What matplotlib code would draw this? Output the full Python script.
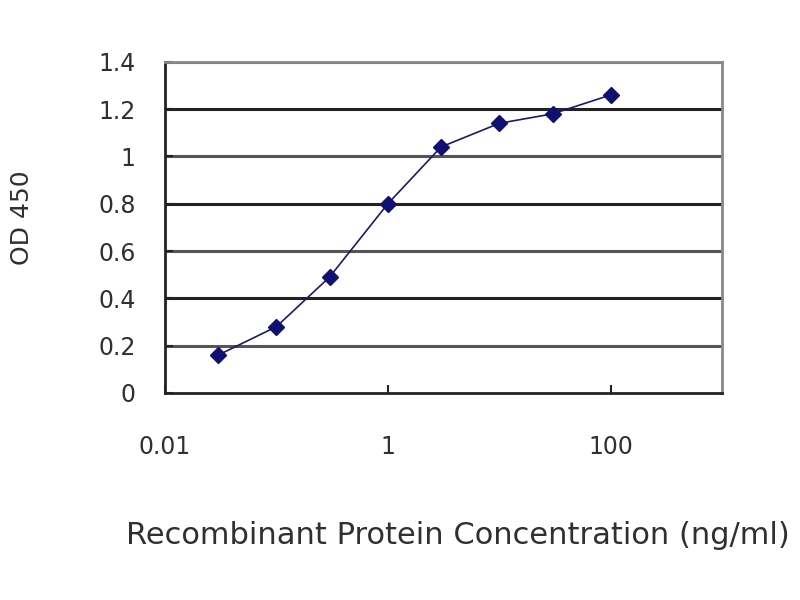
import numpy as np
import matplotlib
matplotlib.use("Agg")
import matplotlib.pyplot as plt

plt.rcParams['font.family'] = ['DejaVu Sans']

# concentration (ng/ml) and OD 450 readings
conc = [0.03, 0.1, 0.3, 1, 3, 10, 30, 100]
od450 = [0.16, 0.28, 0.49, 0.80, 1.04, 1.14, 1.18, 1.26]
xticks = [0.01, 1, 100]
yticks = [0, 0.2, 0.4, 0.6, 0.8, 1, 1.2, 1.4]
ylabels = ["0", "0.2", "0.4", "0.6", "0.8", "1", "1.2", "1.4"]

txt = '#303030'
fig = plt.figure(figsize=(8, 6), dpi=100)
ax = fig.add_axes([0.206, 0.345, 0.697, 0.552])

# alternating grid shades like the scan
for i, y in enumerate(yticks[1:]):
    ax.axhline(y, color='#222222' if i % 2 else '#555555', lw=2.2, zorder=1)

ax.plot(conc, od450, color='#1a1a6e', lw=1.2, zorder=2)
ax.plot(conc, od450, ls='none', marker='D', ms=8, color='#101070', zorder=3)

ax.set_xscale('log')
ax.set_xlim(0.01, 1000)
ax.set_ylim(0, 1.4)
ax.set_xticks(xticks)
ax.set_xticklabels(["0.01", "1", "100"])
ax.minorticks_off()
ax.set_yticks(yticks)
ax.set_yticklabels(ylabels)
ax.tick_params(axis='both', direction='in', length=6, width=1.5, colors='#222222',
               labelsize=17, labelcolor=txt)
ax.tick_params(axis='x', pad=30)
ax.tick_params(axis='y', pad=21)

for s in ['left', 'bottom']:
    ax.spines[s].set_linewidth(2)
    ax.spines[s].set_color('#222222')
for s in ['top', 'right']:
    ax.spines[s].set_linewidth(2)
    ax.spines[s].set_color('#888888')

fig.text(0.572, 0.107, "Recombinant Protein Concentration (ng/ml)", ha='center', va='center',
         fontsize=22, color=txt)
fig.text(0.027, 0.637, "OD 450", ha='center', va='center', rotation=90,
         fontsize=18, color=txt)

fig.savefig("out.png", dpi=100)
